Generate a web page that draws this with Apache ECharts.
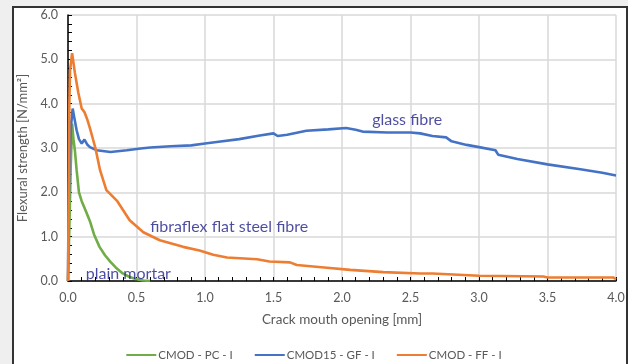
<!DOCTYPE html>
<html><head><meta charset="utf-8">
<script src="https://cdn.jsdelivr.net/npm/echarts@6/dist/echarts.min.js"></script>
<style>html,body{margin:0;padding:0;background:#efefef;}#c{width:628px;height:364px;}</style>
</head><body><div id="c"></div>
<script>
const xTicks = [0, 0.5, 1.0, 1.5, 2.0, 2.5, 3.0, 3.5, 4.0];
const yTicks = [0, 1, 2, 3, 4, 5, 6];
const seriesNames = ['CMOD - PC - I', 'CMOD15 - GF - I', 'CMOD - FF - I'];
const pcData = [[0,0],[0.01,1.2],[0.02,2.6],[0.03,3.55],[0.04,3.2],[0.05,2.95],[0.063,2.5],[0.08,2.0],[0.1,1.8],[0.13,1.58],[0.16,1.35],[0.19,1.05],[0.23,0.77],[0.27,0.58],[0.31,0.43],[0.35,0.3],[0.4,0.17],[0.45,0.09],[0.5,0.04],[0.55,0.01],[0.6,0]];
const gfData = [[0,0],[0.002,0.9],[0.005,1.7],[0.012,2.8],[0.022,3.5],[0.034,3.89],[0.045,3.7],[0.063,3.4],[0.08,3.2],[0.1,3.1],[0.12,3.19],[0.14,3.08],[0.16,3.02],[0.21,2.95],[0.31,2.91],[0.43,2.95],[0.53,2.99],[0.6,3.01],[0.75,3.04],[0.9,3.06],[1.0,3.1],[1.1,3.14],[1.25,3.2],[1.4,3.28],[1.5,3.33],[1.53,3.27],[1.6,3.3],[1.74,3.39],[1.9,3.42],[2.03,3.45],[2.1,3.41],[2.15,3.37],[2.33,3.35],[2.5,3.35],[2.57,3.33],[2.66,3.27],[2.76,3.24],[2.8,3.15],[2.91,3.07],[3.0,3.02],[3.12,2.95],[3.14,2.85],[3.28,2.75],[3.5,2.63],[3.74,2.52],[3.9,2.44],[4.0,2.38]];
const ffData = [[0,0],[0.003,1.0],[0.006,2.0],[0.01,4.0],[0.015,4.75],[0.03,5.14],[0.05,4.7],[0.075,4.25],[0.1,3.89],[0.12,3.81],[0.14,3.65],[0.16,3.45],[0.2,3.0],[0.234,2.5],[0.28,2.05],[0.36,1.8],[0.45,1.37],[0.55,1.1],[0.67,0.92],[0.84,0.77],[0.96,0.69],[1.06,0.59],[1.16,0.53],[1.38,0.49],[1.47,0.44],[1.62,0.42],[1.67,0.36],[1.89,0.3],[2.06,0.25],[2.3,0.2],[2.57,0.17],[2.66,0.17],[3.0,0.12],[3.47,0.1],[3.5,0.08],[3.98,0.08],[4.0,0.04]];
const annotations = [[2.22, 3.63, 'glass fibre'], [0.6, 1.22, 'fibraflex flat steel fibre'], [0.13, 0.17, 'plain mortar']];
const colors = ['#70ad47', '#4472c4', '#ed7d31'];

const FONT = 'Lato, "Open Sans", sans-serif';
const chart = echarts.init(document.getElementById('c'), null, {renderer: 'canvas'});
function lineSeries(name, data, color) {
  return {name, type: 'line', data, showSymbol: false, symbol: 'none', color,
    lineStyle: {color, width: 2.6}, z: 3, animation: false};
}
chart.setOption({
  animation: false,
  backgroundColor: 'transparent',
  textStyle: {fontFamily: FONT},
  graphic: [{type: 'rect', z: -10, silent: true,
    shape: {x: 13, y: 7, width: 614, height: 400},
    style: {fill: '#ffffff', stroke: '#333333', lineWidth: 2}}],
  grid: {left: 68, top: 15, right: 12, bottom: 83, containLabel: false},
  xAxis: {type: 'value', min: xTicks[0], max: xTicks[xTicks.length - 1], interval: 0.5,
    name: 'Crack mouth opening [mm]', nameLocation: 'middle', nameGap: 32,
    nameTextStyle: {color: '#595959', fontSize: 13.5, fontFamily: FONT},
    axisLine: {onZero: false, lineStyle: {color: '#000', width: 1.5}},
    axisTick: {show: true, inside: true, length: 4, lineStyle: {color: '#000'}},
    minorTick: {show: true, splitNumber: 5, length: 4, lineStyle: {color: '#000'}},
    axisLabel: {color: '#595959', fontSize: 12.5, margin: 10, fontFamily: FONT, formatter: v => v.toFixed(1)},
    splitLine: {show: true, lineStyle: {color: '#d9d9d9', width: 1.5}}},
  yAxis: {type: 'value', min: yTicks[0], max: yTicks[yTicks.length - 1], interval: 1,
    name: 'Flexural strength [N/mm²]', nameLocation: 'middle', nameGap: 36,
    nameTextStyle: {color: '#595959', fontSize: 13, fontFamily: FONT},
    axisLine: {show: true, onZero: false, lineStyle: {color: '#000', width: 1.5}},
    axisTick: {show: true, inside: true, length: 4, lineStyle: {color: '#000'}},
    minorTick: {show: true, splitNumber: 5, length: 4, lineStyle: {color: '#000'}},
    axisLabel: {color: '#595959', fontSize: 12.5, margin: 10, fontFamily: FONT, formatter: v => v.toFixed(1)},
    splitLine: {show: true, lineStyle: {color: '#d9d9d9', width: 1.5}}},
  legend: {data: seriesNames, bottom: -2, left: 'center', icon: 'rect', itemWidth: 30, itemHeight: 2,
    itemGap: 22, textStyle: {color: '#595959', fontSize: 11.5, fontFamily: FONT, padding: [0, 0, 0, -3]}},
  series: [
    lineSeries(seriesNames[0], pcData, colors[0]),
    lineSeries(seriesNames[1], gfData, colors[1]),
    lineSeries(seriesNames[2], ffData, colors[2]),
    {name: 'annotations', type: 'scatter', symbolSize: 0, z: 5, silent: true,
      data: annotations.map(a => ({value: [a[0], a[1]], name: a[2]})),
      label: {show: true, position: [0, 0], align: 'left', verticalAlign: 'middle',
        formatter: p => p.name, color: '#1f1f8a', fontSize: 16, fontFamily: FONT}}
  ]
});
</script></body></html>
